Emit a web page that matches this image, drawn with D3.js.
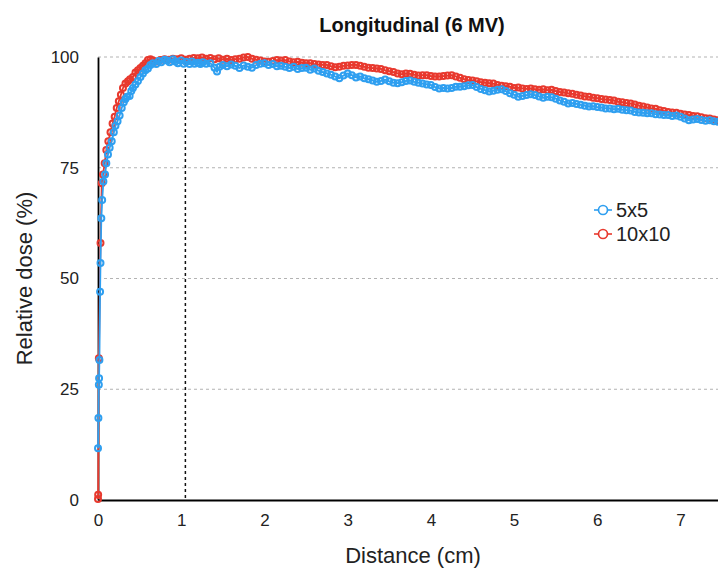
<!DOCTYPE html>
<html>
<head>
<meta charset="utf-8">
<script src="https://cdn.jsdelivr.net/npm/d3@7"></script>
<style>
  body { margin: 0; background: #fff; }
  text { font-family: "Liberation Sans", Arial, sans-serif; }
</style>
</head>
<body>
<svg id="chart" width="718" height="568"></svg>
<script>
// depth dose, 5x5 field
const dist5 = [0, 0.005, 0.01, 0.013, 0.017, 0.025, 0.03, 0.04, 0.05, 0.065, 0.085, 0.1, 0.12, 0.14, 0.165, 0.19, 0.21, 0.235, 0.26, 0.285,
  0.31, 0.33, 0.35, 0.38, 0.4, 0.42, 0.45, 0.48, 0.51, 0.54, 0.57, 0.6, 0.63, 0.66, 0.7, 0.73, 0.76, 0.8, 0.83, 0.86,
  0.9, 0.93, 0.96, 1.0, 1.03, 1.06, 1.1, 1.13, 1.16, 1.2, 1.23, 1.26, 1.3, 1.35, 1.4, 1.43, 1.46, 1.5, 1.55, 1.6,
  1.65, 1.7, 1.75, 1.8, 1.85, 1.9, 1.95, 2.0, 2.05, 2.1, 2.15, 2.2, 2.25, 2.3, 2.35, 2.4, 2.45, 2.5, 2.55, 2.6,
  2.65, 2.7, 2.75, 2.8, 2.85, 2.9, 2.95, 3.0, 3.05, 3.1, 3.15, 3.2, 3.25, 3.3, 3.35, 3.4, 3.45, 3.5, 3.55, 3.6,
  3.65, 3.7, 3.75, 3.8, 3.85, 3.9, 3.95, 4.0, 4.05, 4.1, 4.15, 4.2, 4.25, 4.3, 4.35, 4.4, 4.45, 4.5, 4.55, 4.6,
  4.65, 4.7, 4.75, 4.8, 4.85, 4.9, 4.95, 5.0, 5.05, 5.1, 5.15, 5.2, 5.25, 5.3, 5.35, 5.4, 5.45, 5.5, 5.55, 5.6,
  5.65, 5.7, 5.75, 5.8, 5.85, 5.9, 5.95, 6.0, 6.05, 6.1, 6.15, 6.2, 6.25, 6.3, 6.35, 6.4, 6.45, 6.5, 6.55, 6.6,
  6.65, 6.7, 6.75, 6.8, 6.85, 6.9, 6.95, 7.0, 7.05, 7.1, 7.15, 7.2, 7.25, 7.3, 7.35, 7.4, 7.45];
const dose5 = [11.7, 18.5, 26.0, 27.5, 31.6, 47.0, 53.5, 63.6, 67.7, 71.9, 73.5, 76, 78, 79.5, 81, 83, 84.5, 85.5, 86.8, 88.5,
  89.8, 90.5, 91, 91.2, 92.3, 93, 93.8, 94.6, 95.5, 96.3, 97, 97.4, 98.2, 98.6, 98.4, 99.1, 98.8, 99.4, 99.2, 98.8,
  99.5, 99.0, 98.6, 99.2, 98.5, 98.9, 98.4, 99.0, 98.5, 98.7, 98.4, 98.8, 98.5, 98.6, 97.6, 96.7, 97.8, 98.2, 97.9, 98.3,
  98.0, 97.5, 98.1, 97.8, 97.6, 98.2, 98.5, 98.6, 98.2, 98.4, 97.9, 98.0, 97.8, 97.5, 97.8, 97.3, 97.5, 97.6, 97.1, 97.4,
  96.9, 96.6, 96.3, 96.0, 95.6, 95.2, 95.8, 96.3, 95.9, 95.4, 95.6, 95.2, 95.0, 94.7, 94.4, 94.6, 94.9, 94.5, 94.2, 94.1,
  94.3, 94.6, 94.7, 94.4, 94.2, 94.0, 93.8, 93.7, 93.2, 92.9, 93.0, 92.9, 93.0, 93.3, 93.3, 93.4, 93.6, 93.7, 93.2, 92.8,
  92.5, 92.2, 92.4, 92.6, 92.7, 92.3, 91.8, 91.5, 91.0, 91.2, 91.4, 91.6, 91.4, 91.1, 90.8, 91.0, 90.9, 90.6, 90.2, 89.9,
  89.5, 89.6, 89.4, 89.2, 89.0, 88.8, 88.9, 88.7, 88.6, 88.4, 88.4, 88.2, 88.3, 88.1, 88.0, 87.9, 87.6, 87.5, 87.4, 87.3,
  87.3, 87.1, 87.0, 86.9, 86.9, 86.7, 86.8, 86.5, 86.1, 85.7, 85.9, 86.0, 85.8, 85.6, 85.7, 85.5, 85.4];

// depth dose, 10x10 field
const dist10 = [0, 0.002, 0.01, 0.03, 0.045, 0.06, 0.08, 0.1, 0.124, 0.15, 0.175, 0.2, 0.225, 0.25, 0.275, 0.3, 0.33, 0.36, 0.385, 0.42,
  0.45, 0.48, 0.51, 0.54, 0.57, 0.6, 0.63, 0.66, 0.7, 0.75, 0.8, 0.85, 0.9, 0.95, 1.0, 1.05, 1.1, 1.15, 1.2, 1.25,
  1.3, 1.35, 1.4, 1.45, 1.5, 1.55, 1.6, 1.65, 1.7, 1.75, 1.8, 1.85, 1.9, 1.95, 2.0, 2.05, 2.1, 2.15, 2.2, 2.25,
  2.3, 2.35, 2.4, 2.45, 2.5, 2.55, 2.6, 2.65, 2.7, 2.75, 2.8, 2.85, 2.9, 2.95, 3.0, 3.05, 3.1, 3.15, 3.2, 3.25,
  3.3, 3.35, 3.4, 3.45, 3.5, 3.55, 3.6, 3.65, 3.7, 3.75, 3.8, 3.85, 3.9, 3.95, 4.0, 4.05, 4.1, 4.15, 4.2, 4.25,
  4.3, 4.35, 4.4, 4.45, 4.5, 4.55, 4.6, 4.65, 4.7, 4.75, 4.8, 4.85, 4.9, 4.95, 5.0, 5.05, 5.1, 5.15, 5.2, 5.25,
  5.3, 5.35, 5.4, 5.45, 5.5, 5.55, 5.6, 5.65, 5.7, 5.75, 5.8, 5.85, 5.9, 5.95, 6.0, 6.05, 6.1, 6.15, 6.2, 6.25,
  6.3, 6.35, 6.4, 6.45, 6.5, 6.55, 6.6, 6.65, 6.7, 6.75, 6.8, 6.85, 6.9, 6.95, 7.0, 7.05, 7.1, 7.15, 7.2, 7.25,
  7.3, 7.35, 7.4, 7.45];
const dose10 = [0.2, 1.2, 32, 58, 71.5, 73.5, 76, 79, 81, 83, 85, 86.5, 88.5, 90, 91.5, 93, 94, 94.5, 95, 95.5,
  96.5, 97, 97.5, 98, 98.6, 99.3, 99.5, 99.2, 99.0, 99.3, 99.5, 99.4, 99.6, 99.5, 99.7, 99.4, 99.6, 99.8, 99.7, 99.9,
  99.6, 99.8, 99.5, 99.7, 99.4, 99.6, 99.3, 99.5, 99.6, 99.9, 100, 99.6, 99.4, 99.2, 99.0, 98.9, 99.1, 99.3, 99.2, 99.3,
  99.0, 98.8, 98.9, 98.7, 98.6, 98.6, 98.4, 98.3, 98.2, 98.2, 97.9, 97.7, 97.8, 98.0, 98.1, 98.2, 98.2, 98.0, 97.8, 97.6,
  97.5, 97.4, 97.3, 97.0, 96.8, 96.6, 96.3, 96.1, 96.3, 96.2, 96.0, 95.8, 95.9, 95.9, 95.7, 95.6, 95.6, 95.7, 95.8, 95.9,
  95.6, 95.3, 95.0, 94.8, 94.7, 94.5, 94.3, 94.2, 94.1, 94.0, 93.7, 93.5, 93.4, 93.3, 93.0, 93.1, 92.9, 92.8, 92.9, 92.7,
  92.6, 92.7, 92.5, 92.6, 92.3, 92.1, 92.0, 91.8, 91.7, 91.5, 91.3, 91.1, 91.0, 90.8, 90.7, 90.5, 90.4, 90.3, 90.2, 89.9,
  89.8, 89.6, 89.5, 89.3, 89.0, 88.8, 88.6, 88.4, 88.3, 88.0, 87.8, 87.6, 87.5, 87.4, 87.2, 87.0, 86.9, 86.7, 86.6, 86.4,
  86.2, 86.1, 85.9, 85.7];

const yTicks = [0, 25, 50, 75, 100];
const xTicks = [0, 1, 2, 3, 4, 5, 6, 7];
const dmax = 1.05; // depth of max dose marker

const series = [
  {name: "10x10", color: "#e8392e", xs: dist10, ys: dose10},
  {name: "5x5", color: "#2f9ff0", xs: dist5, ys: dose5}
];

const svg = d3.select('#chart');
const W = +svg.attr('width');
const H = +svg.attr('height');
const margin = {top: 57, bottom: 68, left: 98, right: 0};

const x = d3.scaleLinear().domain([0, 7.45]).range([margin.left, W - margin.right]);
const y = d3.scaleLinear().domain([0, 100]).range([H - margin.bottom, margin.top]);

// grid
svg.append('g').selectAll('line').data(yTicks.filter(d => d > 0))
  .enter().append('line')
    .attr('x1', margin.left).attr('x2', W)
    .attr('y1', d => y(d)).attr('y2', d => y(d))
    .attr('stroke', '#b3b3b3').attr('stroke-width', 1.2)
    .attr('stroke-dasharray', '3,3');

// dmax line
svg.append('line')
  .attr('x1', x(dmax)).attr('x2', x(dmax))
  .attr('y1', y(100)).attr('y2', y(0))
  .attr('stroke', '#111').attr('stroke-width', 1.5)
  .attr('stroke-dasharray', '3,3');

// axes
const yAxis = svg.append('g')
  .attr('transform', 'translate(' + margin.left + ',0)')
  .call(d3.axisLeft(y).tickValues(yTicks).tickSize(0).tickPadding(19));
const xAxis = svg.append('g')
  .attr('transform', 'translate(0,' + y(0) + ')')
  .call(d3.axisBottom(x).tickValues(xTicks).tickSize(0).tickPadding(14));
[yAxis, xAxis].forEach(a => {
  a.select('.domain').attr('stroke', '#000').attr('stroke-width', 1.8);
  a.selectAll('text').style('font-size', '17px').attr('fill', '#222')
    .style('font-family', '"Liberation Sans", Arial, sans-serif');
});

// series
const line = d3.line().x(d => x(d[0])).y(d => y(d[1]));
series.forEach(s => {
  const pts = s.xs.map((v, i) => [v, s.ys[i]]);
  const g = svg.append('g');
  g.append('path').datum(pts)
    .attr('d', line).attr('fill', 'none')
    .attr('stroke', s.color).attr('stroke-width', 1.8);
  g.selectAll('circle').data(pts).enter().append('circle')
    .attr('cx', d => x(d[0])).attr('cy', d => y(d[1]))
    .attr('r', 3).attr('fill', 'none')
    .attr('stroke', s.color).attr('stroke-width', 2);
});

// titles
svg.append('text').text('Longitudinal (6 MV)')
  .attr('x', 412).attr('y', 32).attr('text-anchor', 'middle')
  .style('font-size', '20px').style('font-weight', 'bold').attr('fill', '#111');
svg.append('text').text('Distance (cm)')
  .attr('x', 413).attr('y', 563).attr('text-anchor', 'middle')
  .style('font-size', '22px').attr('fill', '#222');
svg.append('text').text('Relative dose (%)')
  .attr('transform', 'translate(32,' + y(50) + ') rotate(-90)')
  .attr('text-anchor', 'middle')
  .style('font-size', '22px').attr('fill', '#222');

// legend
const legend = svg.append('g');
[series[1], series[0]].forEach((s, i) => {
  const ly = 210 + i * 24;
  legend.append('line').attr('x1', 594).attr('x2', 612).attr('y1', ly).attr('y2', ly)
    .attr('stroke', s.color).attr('stroke-width', 1.6);
  legend.append('circle').attr('cx', 603).attr('cy', ly).attr('r', 4.5)
    .attr('fill', '#fff').attr('stroke', s.color).attr('stroke-width', 1.7);
  legend.append('text').text(s.name).attr('x', 616).attr('y', ly + 7)
    .style('font-size', '20px').attr('fill', '#222');
});
</script>
</body>
</html>
